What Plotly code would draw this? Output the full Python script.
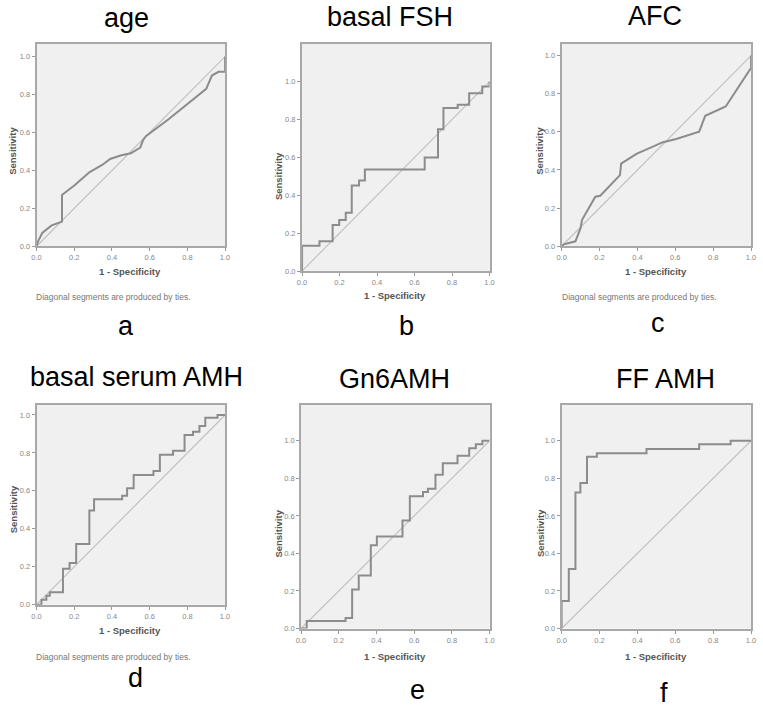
import plotly.graph_objects as go

W, H = 763, 709

# ---------------- data ----------------
titles = ["age", "basal FSH", "AFC", "basal serum AMH", "Gn6AMH", "FF AMH"]
letters = ["a", "b", "c", "d", "e", "f"]
tick_vals = [0.0, 0.2, 0.4, 0.6, 0.8, 1.0]
tick_text = ["0.0", "0.2", "0.4", "0.6", "0.8", "1.0"]

age_fpr = [0, 0.01, 0.03, 0.08, 0.135, 0.135, 0.16, 0.2, 0.28, 0.35, 0.39, 0.45, 0.5, 0.55, 0.565, 0.58, 0.7, 0.8, 0.9, 0.93, 0.965, 1.0, 1.0]
age_tpr = [0, 0.03, 0.07, 0.11, 0.13, 0.27, 0.29, 0.32, 0.39, 0.43, 0.46, 0.48, 0.49, 0.52, 0.56, 0.58, 0.67, 0.75, 0.83, 0.9, 0.92, 0.92, 1.0]

fsh_fpr = [0, 0, 0.093, 0.163, 0.198, 0.233, 0.265, 0.304, 0.335, 0.654, 0.725, 0.754, 0.83, 0.891, 0.961, 1.0]
fsh_tpr = [0, 0.134, 0.157, 0.243, 0.27, 0.308, 0.452, 0.478, 0.536, 0.6, 0.748, 0.861, 0.878, 0.939, 0.974, 1.0]

afc_fpr = [0, 0.012, 0.073, 0.1, 0.108, 0.178, 0.204, 0.308, 0.314, 0.395, 0.535, 0.605, 0.726, 0.758, 0.866, 1.0, 1.0]
afc_tpr = [0, 0.01, 0.026, 0.095, 0.139, 0.26, 0.265, 0.373, 0.433, 0.485, 0.546, 0.563, 0.601, 0.684, 0.733, 0.936, 1.0]

amh_fpr = [0, 0.026, 0.052, 0.07, 0.14, 0.175, 0.21, 0.28, 0.305, 0.454, 0.48, 0.515, 0.62, 0.654, 0.724, 0.785, 0.83, 0.864, 0.895, 0.96, 1.0]
amh_tpr = [0, 0.026, 0.047, 0.065, 0.19, 0.22, 0.32, 0.496, 0.556, 0.574, 0.614, 0.684, 0.705, 0.79, 0.812, 0.895, 0.912, 0.942, 0.986, 1.0, 1.0]

gn6_fpr = [0, 0.03, 0.236, 0.271, 0.306, 0.37, 0.402, 0.538, 0.577, 0.647, 0.673, 0.713, 0.752, 0.83, 0.892, 0.927, 0.962, 1.0]
gn6_tpr = [0, 0.04, 0.056, 0.208, 0.282, 0.444, 0.49, 0.576, 0.704, 0.727, 0.745, 0.819, 0.88, 0.92, 0.96, 0.982, 1.0, 1.0]

ff_fpr = [0, 0, 0.038, 0.073, 0.099, 0.134, 0.186, 0.448, 0.726, 0.892, 1.0]
ff_tpr = [0, 0.146, 0.317, 0.725, 0.775, 0.915, 0.933, 0.956, 0.981, 1.0, 1.0]

curves = [(age_fpr, age_tpr, "linear"), (fsh_fpr, fsh_tpr, "hv"), (afc_fpr, afc_tpr, "linear"),
          (amh_fpr, amh_tpr, "hv"), (gn6_fpr, gn6_tpr, "hv"), (ff_fpr, ff_tpr, "hv")]
diag = [0.0, 1.0]

# ---------------- layout (page pixel geometry) ----------------
boxes = [(32, 223, 44, 248, 1.068), (301, 491, 44, 273, 1.2), (564, 756, 44, 248, 1.0625),
         (32, 223, 408, 609, 1.052), (300, 491, 408, 633, 1.19), (564, 756, 408, 633, 1.19)]
title_pos = [(123, 18), (390, 17), (659, 16), (133, 380), (395, 382), (669, 382)]
letter_pos = [(123, 328), (407, 328), (662, 325), (132, 683), (418, 695), (668, 698)]
xtitle_pos = [(127, 273), (395, 298), (660, 273), (127, 635), (395, 661), (660, 661)]
ytitle_pos = [(8, 152), (277, 177), (542, 152), (8, 513), (277, 537), (542, 537)]
foot_pos = {0: (29, 299), 2: (562, 299), 3: (29, 662)}

def px(x):
    return x / W

def py(y):
    return 1 - y / H

fig = go.Figure()
layout = dict(width=W, height=H, margin=dict(l=0, r=0, t=0, b=0),
              paper_bgcolor="white", plot_bgcolor="#f0f0f0", showlegend=False,
              font=dict(family="Liberation Sans, Arial, sans-serif"))
annotations = []

for i, (fx, fy, shape) in enumerate(curves):
    n = i + 1
    xa = "x" if n == 1 else f"x{n}"
    ya = "y" if n == 1 else f"y{n}"
    fig.add_trace(go.Scatter(x=diag, y=diag, mode="lines", xaxis=xa, yaxis=ya,
                             line=dict(color="#c2c2c2", width=1.2), hoverinfo="skip"))
    fig.add_trace(go.Scatter(x=fx, y=fy, mode="lines", xaxis=xa, yaxis=ya,
                             line=dict(color="#8c8c8c", width=2, shape=shape)))
    l, r, t, b, ytop = boxes[i]
    axcommon = dict(showgrid=False, zeroline=False, showline=True, mirror=True,
                    linecolor="#a8a8a8", linewidth=2, ticks="outside", ticklen=3,
                    tickcolor="#999999", tickwidth=1, tickvals=tick_vals, ticktext=tick_text,
                    tickfont=dict(size=7.5, color="#888888"), fixedrange=True)
    layout["xaxis" if n == 1 else f"xaxis{n}"] = dict(
        axcommon, domain=[px(l), min(px(r), 1.0)], range=[0, 1], anchor=ya)
    layout["yaxis" if n == 1 else f"yaxis{n}"] = dict(
        axcommon, domain=[py(b), py(t)], range=[0, ytop], anchor=xa)

    tx, ty = title_pos[i]
    annotations.append(dict(text=titles[i], x=px(tx), y=py(ty), xref="paper", yref="paper",
                            showarrow=False, xanchor="center", yanchor="middle",
                            font=dict(size=27, color="#000000")))
    lx, ly = letter_pos[i]
    annotations.append(dict(text=letters[i], x=px(lx), y=py(ly), xref="paper", yref="paper",
                            showarrow=False, xanchor="center", yanchor="middle",
                            font=dict(size=27, color="#000000")))
    sx, sy = xtitle_pos[i]
    annotations.append(dict(text="<b>1 - Specificity</b>", x=px(sx), y=py(sy), xref="paper",
                            yref="paper", showarrow=False, xanchor="center", yanchor="middle",
                            font=dict(size=9.5, color="#555555")))
    vx, vy = ytitle_pos[i]
    annotations.append(dict(text="<b>Sensitivity</b>", x=px(vx), y=py(vy), xref="paper",
                            yref="paper", showarrow=False, xanchor="center", yanchor="middle",
                            textangle=-90, font=dict(size=9.5, color="#555555")))
    if i in foot_pos:
        fxp, fyp = foot_pos[i]
        annotations.append(dict(text="Diagonal segments are produced by ties.", x=px(fxp),
                                y=py(fyp), xref="paper", yref="paper", showarrow=False,
                                xanchor="left", yanchor="middle",
                                font=dict(size=8.5, color="#777777")))

layout["annotations"] = annotations
fig.update_layout(**layout)
# remove the default 8px page margin so the figure fills the window exactly
fig.write_html("out.html", config={"displayModeBar": False},
               post_script="document.body.style.margin='0';document.body.style.overflow='hidden';")
